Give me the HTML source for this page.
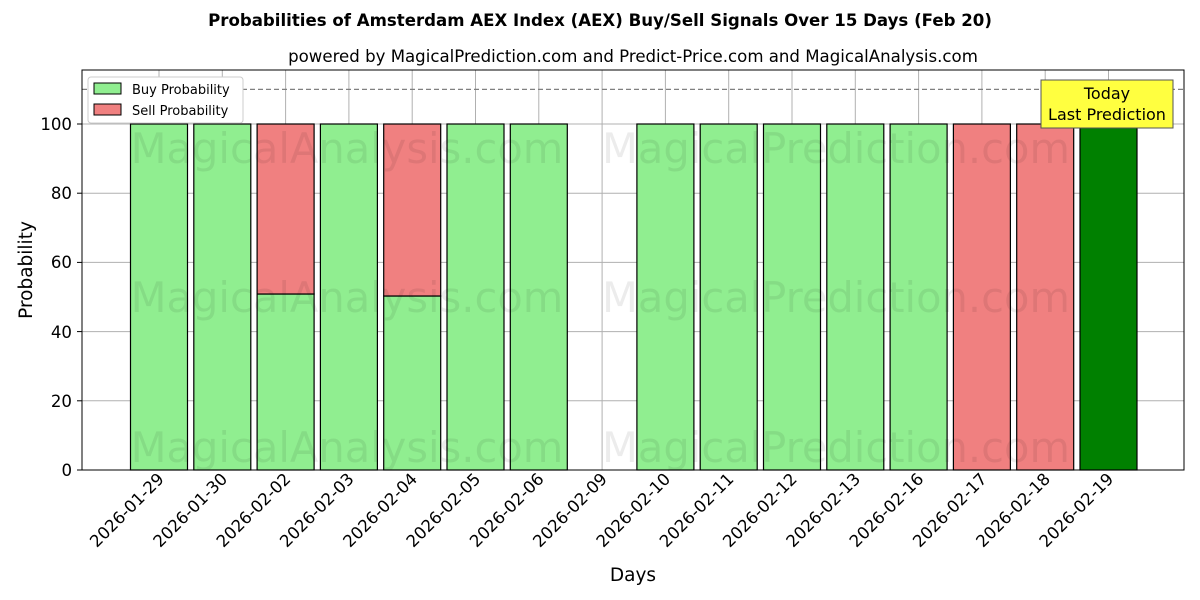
<!DOCTYPE html>
<html><head><meta charset="utf-8"><style>body{margin:0;background:#fff}svg{display:block}</style></head><body>
<svg width="1200" height="600" xmlns="http://www.w3.org/2000/svg" font-family="'DejaVu Sans','Liberation Sans',sans-serif">
<rect width="1200" height="600" fill="#fff"/>
<text x="600" y="26" text-anchor="middle" font-size="16.6" font-weight="bold">Probabilities of Amsterdam AEX Index (AEX) Buy/Sell Signals Over 15 Days (Feb 20)</text>
<text x="633" y="62" text-anchor="middle" font-size="16.6">powered by MagicalPrediction.com and Predict-Price.com and MagicalAnalysis.com</text>
<g stroke="#b0b0b0" stroke-width="1">
<line x1="82" x2="1184" y1="470" y2="470"/><line x1="82" x2="1184" y1="400.8" y2="400.8"/><line x1="82" x2="1184" y1="331.6" y2="331.6"/><line x1="82" x2="1184" y1="262.4" y2="262.4"/><line x1="82" x2="1184" y1="193.2" y2="193.2"/><line x1="82" x2="1184" y1="124" y2="124"/>
<line x1="159" x2="159" y1="70" y2="470"/><line x1="222.3" x2="222.3" y1="70" y2="470"/><line x1="285.6" x2="285.6" y1="70" y2="470"/><line x1="348.9" x2="348.9" y1="70" y2="470"/><line x1="412.2" x2="412.2" y1="70" y2="470"/><line x1="475.5" x2="475.5" y1="70" y2="470"/><line x1="538.8" x2="538.8" y1="70" y2="470"/><line x1="602.1" x2="602.1" y1="70" y2="470"/><line x1="665.4" x2="665.4" y1="70" y2="470"/><line x1="728.7" x2="728.7" y1="70" y2="470"/><line x1="792" x2="792" y1="70" y2="470"/><line x1="855.3" x2="855.3" y1="70" y2="470"/><line x1="918.6" x2="918.6" y1="70" y2="470"/><line x1="981.9" x2="981.9" y1="70" y2="470"/><line x1="1045.2" x2="1045.2" y1="70" y2="470"/><line x1="1108.5" x2="1108.5" y1="70" y2="470"/>
</g>
<g stroke="#000" stroke-width="1.2">
<rect x="130.5" y="124" width="57" height="346" fill="#90ee90"/>
<rect x="193.8" y="124" width="57" height="346" fill="#90ee90"/>
<rect x="257.1" y="294" width="57" height="176" fill="#90ee90"/>
<rect x="257.1" y="124" width="57" height="170" fill="#f08080"/>
<rect x="320.4" y="124" width="57" height="346" fill="#90ee90"/>
<rect x="383.7" y="296" width="57" height="174" fill="#90ee90"/>
<rect x="383.7" y="124" width="57" height="172" fill="#f08080"/>
<rect x="447" y="124" width="57" height="346" fill="#90ee90"/>
<rect x="510.3" y="124" width="57" height="346" fill="#90ee90"/>
<rect x="636.9" y="124" width="57" height="346" fill="#90ee90"/>
<rect x="700.2" y="124" width="57" height="346" fill="#90ee90"/>
<rect x="763.5" y="124" width="57" height="346" fill="#90ee90"/>
<rect x="826.8" y="124" width="57" height="346" fill="#90ee90"/>
<rect x="890.1" y="124" width="57" height="346" fill="#90ee90"/>
<rect x="953.4" y="124" width="57" height="346" fill="#f08080"/>
<rect x="1016.7" y="124" width="57" height="346" fill="#f08080"/>
<rect x="1080" y="124" width="57" height="346" fill="#008000"/>
</g>
<g font-size="41.6" fill="#000" opacity="0.07" text-anchor="middle">
<text x="347" y="163">MagicalAnalysis.com</text><text x="836" y="163">MagicalPrediction.com</text>
<text x="347" y="312">MagicalAnalysis.com</text><text x="836" y="312">MagicalPrediction.com</text>
<text x="347" y="462">MagicalAnalysis.com</text><text x="836" y="462">MagicalPrediction.com</text>
</g>
<line x1="82" x2="1184" y1="89.4" y2="89.4" stroke="#808080" stroke-width="1.2" stroke-dasharray="5,3"/>
<rect x="1041" y="80" width="132" height="48" fill="#ffff40" stroke="#555"/>
<text x="1107" y="99" text-anchor="middle" font-size="16">Today</text>
<text x="1107" y="120" text-anchor="middle" font-size="16">Last Prediction</text>
<rect x="82" y="70" width="1102" height="400" fill="none" stroke="#000" stroke-width="1"/>
<g font-size="16.6" text-anchor="end">
<text x="72" y="476">0</text><text x="72" y="407">20</text><text x="72" y="338">40</text><text x="72" y="268">60</text><text x="72" y="199">80</text><text x="72" y="130">100</text>
</g>
<g stroke="#000"><line x1="77" x2="82" y1="470" y2="470"/><line x1="77" x2="82" y1="400.8" y2="400.8"/><line x1="77" x2="82" y1="331.6" y2="331.6"/><line x1="77" x2="82" y1="262.4" y2="262.4"/><line x1="77" x2="82" y1="193.2" y2="193.2"/><line x1="77" x2="82" y1="124" y2="124"/></g>
<g font-size="16.6" text-anchor="end">
<text transform="translate(165,480) rotate(-45)">2026-01-29</text>
<text transform="translate(228.3,480) rotate(-45)">2026-01-30</text>
<text transform="translate(291.6,480) rotate(-45)">2026-02-02</text>
<text transform="translate(354.9,480) rotate(-45)">2026-02-03</text>
<text transform="translate(418.2,480) rotate(-45)">2026-02-04</text>
<text transform="translate(481.5,480) rotate(-45)">2026-02-05</text>
<text transform="translate(544.8,480) rotate(-45)">2026-02-06</text>
<text transform="translate(608.1,480) rotate(-45)">2026-02-09</text>
<text transform="translate(671.4,480) rotate(-45)">2026-02-10</text>
<text transform="translate(734.7,480) rotate(-45)">2026-02-11</text>
<text transform="translate(798,480) rotate(-45)">2026-02-12</text>
<text transform="translate(861.3,480) rotate(-45)">2026-02-13</text>
<text transform="translate(924.6,480) rotate(-45)">2026-02-16</text>
<text transform="translate(987.9,480) rotate(-45)">2026-02-17</text>
<text transform="translate(1051.2,480) rotate(-45)">2026-02-18</text>
<text transform="translate(1114.5,480) rotate(-45)">2026-02-19</text>
</g>
<text x="633" y="581" text-anchor="middle" font-size="18.5">Days</text>
<text transform="translate(32,270) rotate(-90)" text-anchor="middle" font-size="18.5">Probability</text>
<rect x="88" y="77" width="155" height="46" fill="#fff" stroke="#ccc" rx="3"/>
<rect x="94" y="83" width="27" height="11" fill="#90ee90" stroke="#000"/>
<text x="132" y="94" font-size="13">Buy Probability</text>
<rect x="94" y="104" width="27" height="11" fill="#f08080" stroke="#000"/>
<text x="132" y="115" font-size="13">Sell Probability</text>
</svg>
</body></html>
